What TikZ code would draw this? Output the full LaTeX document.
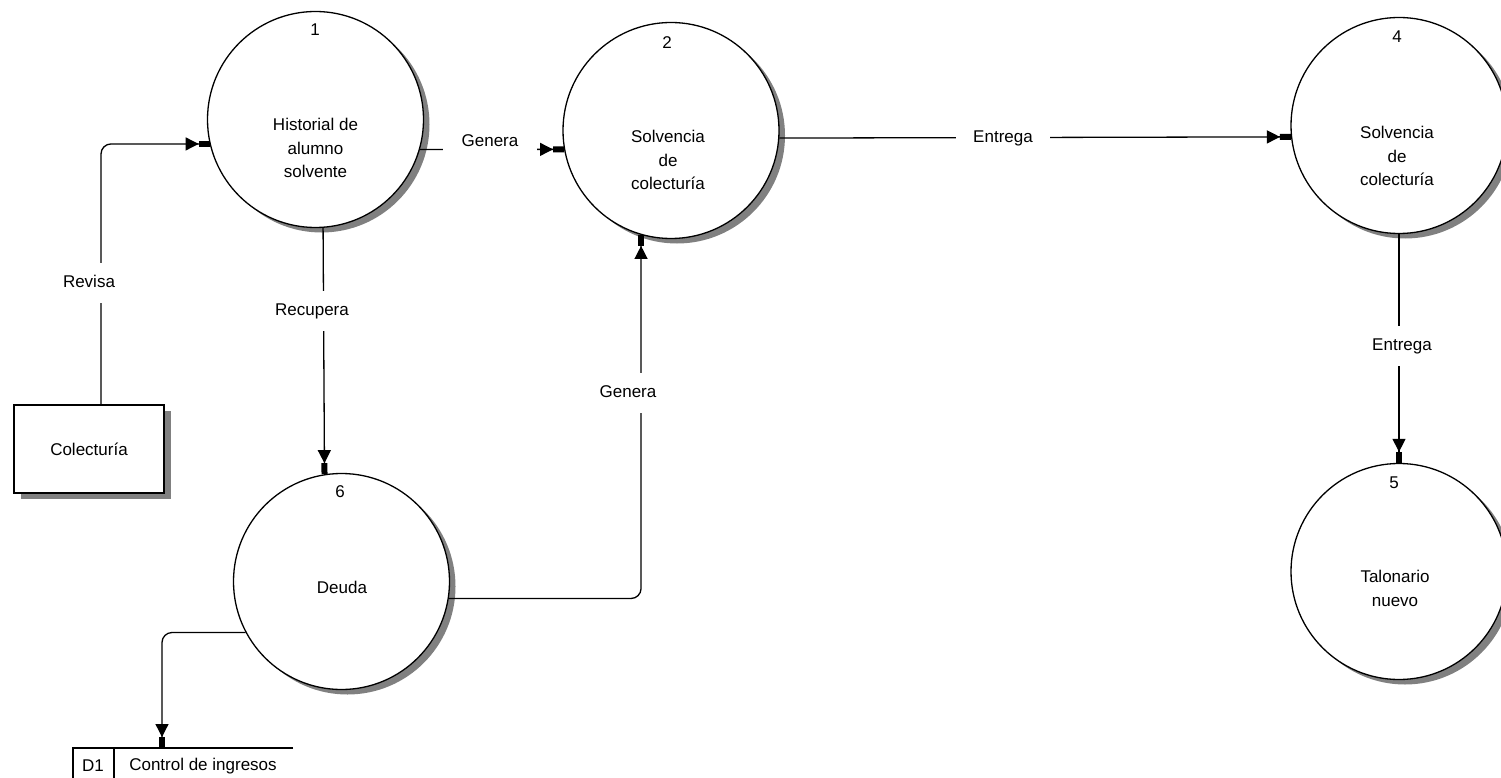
\documentclass[tikz,border=0pt]{standalone}
\usepackage{fontspec}
\setmainfont{Liberation Sans}
\usetikzlibrary{arrows.meta,shadows}
\definecolor{shadowgray}{RGB}{128,128,128}
\begin{document}
\begin{tikzpicture}[x=1pt,y=-1pt,
  every node/.style={font=\fontsize{17}{23.5}\selectfont},
  process/.style={circle,draw=black,fill=white,line width=1.3pt,
    minimum size=216pt,inner sep=0pt,
    drop shadow={shadow xshift=6pt,shadow yshift=-5pt,opacity=1,fill=shadowgray}},
  entity/.style={rectangle,draw=black,fill=white,line width=1.4pt,
    minimum width=150pt,minimum height=88pt,inner sep=0pt,
    drop shadow={shadow xshift=7pt,shadow yshift=-6pt,opacity=1,fill=shadowgray}},
  flow/.style={line width=1.3pt,rounded corners=10pt,
    -{Triangle[length=13pt,width=13pt]Rectangle[length=11pt,width=6pt]}},
  flowlabel/.style={fill=white,inner xsep=17pt,inner ysep=12pt,
    text height=12pt,text depth=4pt},
  storeline/.style={line width=1.3pt},
  ptext/.style={align=center,inner sep=0pt}
]
\useasboundingbox (0,0) rectangle (1501,778);
\clip (0,0) rectangle (1501,778);

% processes
\node[process] (p1) at (315.5,119.5) {};
\node[process] (p2) at (671,130.5) {};
\node[process] (p4) at (1399,125.5) {};
\node[process] (p5) at (1399,571.5) {};
\node[process] (p6) at (341.5,581.5) {};

% process numbers and names
\node[ptext] (n1) at (315,30) {1};
\node[ptext] (t1) at (315.5,148) {Historial de\\alumno\\solvente};
\node[ptext] (n2) at (667,43) {2};
\node[ptext] (t2) at (668,160) {Solvencia\\de\\colecturía};
\node[ptext] (n4) at (1397,37) {4};
\node[ptext] (t4) at (1397,156) {Solvencia\\de\\colecturía};
\node[ptext] (n5) at (1394,483) {5};
\node[ptext] (t5) at (1395,588.5) {Talonario\\nuevo};
\node[ptext] (n6) at (340,492) {6};
\node[ptext] (t6) at (342,587) {Deuda};

% external entity
\node[entity] (col) at (89,449) {Colecturía};

% data store D1
\coordinate (d1in) at (162,748);
\draw[storeline] (293,748) -- (73,748) -- (73,779);
\draw[storeline] (114,748) -- (114,779);
\node[ptext] (d1id) at (93,766) {D1};
\node[ptext] (d1name) at (203,766) {Control de ingresos};

% data flows
\draw[flow] ([xshift=12pt]col.north) |- (p1.193);
\draw[flow] (p1.-16.4) -- (p2.190.4);
\draw[flow] (p2.-4) -- (p4.186.7);
\draw[flow] (p1.-86) -- (p6.99.9);
\draw[flow] (p6.-9.3) -| (p2.-106.1);
\draw[flow] (p4.south) -- (p5.north);
\draw[flow] (p6.208.5) -| (d1in);

% flow labels
\node[flowlabel] (lrev) at (89,283) {Revisa};
\node[flowlabel,inner xsep=19pt] (lgen1) at (490,143) {Genera};
\node[flowlabel] (lent1) at (1003,139) {Entrega};
\node[flowlabel] (lrec) at (312,311) {Recupera};
\node[flowlabel] (lgen2) at (628,393) {Genera};
\node[flowlabel] (lent2) at (1402,346) {Entrega};
\end{tikzpicture}
\end{document}
